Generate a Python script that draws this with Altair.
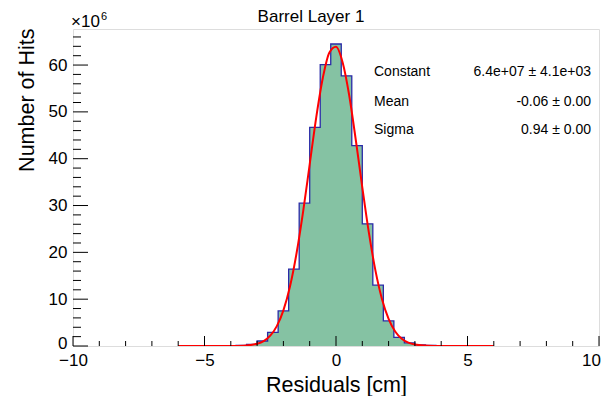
import altair as alt
import pandas as pd

# Histogram (units of 10^6 hits), 0.4 cm bins
bin_edges = [-4.2, -3.8, -3.4, -3.0, -2.6, -2.2, -1.8, -1.4, -1.0, -0.6, -0.2,
             0.2, 0.6, 1.0, 1.4, 1.8, 2.2, 2.6, 3.0, 3.4, 3.8, 4.2]
bin_counts = [0.05, 0.15, 0.35, 1.07, 2.9, 7.5, 16.4, 30.5, 46.7, 60.1, 64.5,
              57.7, 42.8, 26.1, 13.0, 5.35, 1.85, 0.65, 0.22, 0.12, 0.03]

# Gaussian fit curve
fit_x = [-6, -4, -3.5, -3, -2.75, -2.5, -2.25, -2, -1.75, -1.5, -1.25, -1, -0.75, -0.5, -0.25,
         0, 0.25, 0.5, 0.75, 1, 1.25, 1.5, 1.75, 2, 2.25, 2.5, 2.75, 3, 3.5, 4, 6]
fit_y = [0, 0.01, 0.08, 0.48, 1.06, 2.2, 4.25, 7.6, 12.7, 19.8, 28.7, 38.8, 48.9, 57.3, 62.7,
         63.9, 60.6, 53.6, 44.1, 33.9, 24.2, 16.1, 10.0, 5.8, 3.1, 1.57, 0.73, 0.32, 0.05, 0.01, 0]

x_major = [-10, -5, 0, 5, 10]
x_minor = [-9, -8, -7, -6, -4, -3, -2, -1, 1, 2, 3, 4, 6, 7, 8, 9]
y_major = [0, 10, 20, 30, 40, 50, 60]
y_minor = [2, 4, 6, 8, 12, 14, 16, 18, 22, 24, 26, 28, 32, 34, 36, 38, 42, 44, 46, 48,
           52, 54, 56, 58, 62, 64, 66]

stat_names = ["Constant", "Mean", "Sigma"]
stat_values = ["6.4e+07 \u00b1 4.1e+03", "-0.06 \u00b1 0.00", "0.94 \u00b1 0.00"]

FONT = "Liberation Sans"
W, H = 526, 317

hist_df = pd.DataFrame({"x": bin_edges, "y": bin_counts + [0]})
fit_df = pd.DataFrame({"x": fit_x, "y": fit_y})

xs = alt.Scale(domain=[-10, 10], nice=False, zero=False)
ys = alt.Scale(domain=[0, 67.7], nice=False)

x_enc = alt.X("x:Q", scale=xs, axis=alt.Axis(
    values=x_major, tickSize=0, domain=False, grid=False, labelFlush=False,
    labelOffset=alt.condition("datum.value == 10", alt.value(-8), alt.value(0)),
    labelFontSize=17, labelFont=FONT, labelColor="black", labelPadding=6,
    title="Residuals [cm]", titleFont=FONT, titleFontSize=21.5, titleFontWeight="normal",
    titleColor="black", titleY=45, titleBaseline="alphabetic"))
y_enc = alt.Y("y:Q", scale=ys, axis=alt.Axis(
    values=y_major, tickSize=0, domain=False, grid=False,
    labelOffset=alt.condition("datum.value == 0", alt.value(-3), alt.value(0)),
    labelFontSize=17, labelFont=FONT, labelColor="black", labelPadding=6,
    title="Number of Hits", titleFont=FONT, titleFontSize=21.5, titleFontWeight="normal",
    titleColor="black", titleAngle=270, titleAlign="right", titleBaseline="alphabetic",
    titleX=-40, titleY=-1))

area = alt.Chart(hist_df).mark_area(interpolate="step-after", color="#85c2a3", opacity=1,
                                    clip=True).encode(x=x_enc, y=y_enc)
outline = alt.Chart(hist_df).mark_line(interpolate="step-after", color="#2a2aa8",
                                       strokeWidth=1.3, clip=True).encode(x="x:Q", y="y:Q")
fit = alt.Chart(fit_df).mark_line(interpolate="monotone", color="#ff0000",
                                  strokeWidth=2, clip=True).encode(x="x:Q", y="y:Q")


def vticks(vals, length):
    return alt.Chart(pd.DataFrame({"x": vals})).mark_rule(color="black", strokeWidth=1).encode(
        x="x:Q", y=alt.value(H), y2=alt.value(H - length))


def hticks(vals, length):
    return alt.Chart(pd.DataFrame({"y": vals})).mark_rule(color="black", strokeWidth=1).encode(
        y="y:Q", x=alt.value(0), x2=alt.value(length))


def label(text, x, y, size, align="left", baseline="middle"):
    return alt.Chart(pd.DataFrame({"t": [text]})).mark_text(
        font=FONT, fontSize=size, align=align, baseline=baseline, color="black").encode(
        text="t:N", x=alt.value(x), y=alt.value(y))


layers = [area, outline, fit,
          vticks(x_major, 10), vticks(x_minor, 5),
          hticks(y_major, 15), hticks(y_minor, 8)]

stat_y = [43.3, 72.7, 101]
for name, val, yy in zip(stat_names, stat_values, stat_y):
    layers.append(label(name, 301, yy, 14))
    layers.append(label(val, 518, yy, 14, align="right"))

layers.append(label("Barrel Layer 1", 238, -7.5, 17, align="center", baseline="alphabetic"))
layers.append(label("\u00d710", -2, -2, 17, baseline="alphabetic"))
layers.append(label("6", 28, -9.5, 11, baseline="alphabetic"))

chart = alt.layer(*layers).properties(
    width=W, height=H,
    autosize=alt.AutoSizeParams(type="none"),
    padding={"left": 65, "top": 21, "right": 2, "bottom": 50},
).configure_view(stroke="black", strokeWidth=1).configure(background="white")

chart.save("out.html", embed_options={"renderer": "svg", "actions": False})
